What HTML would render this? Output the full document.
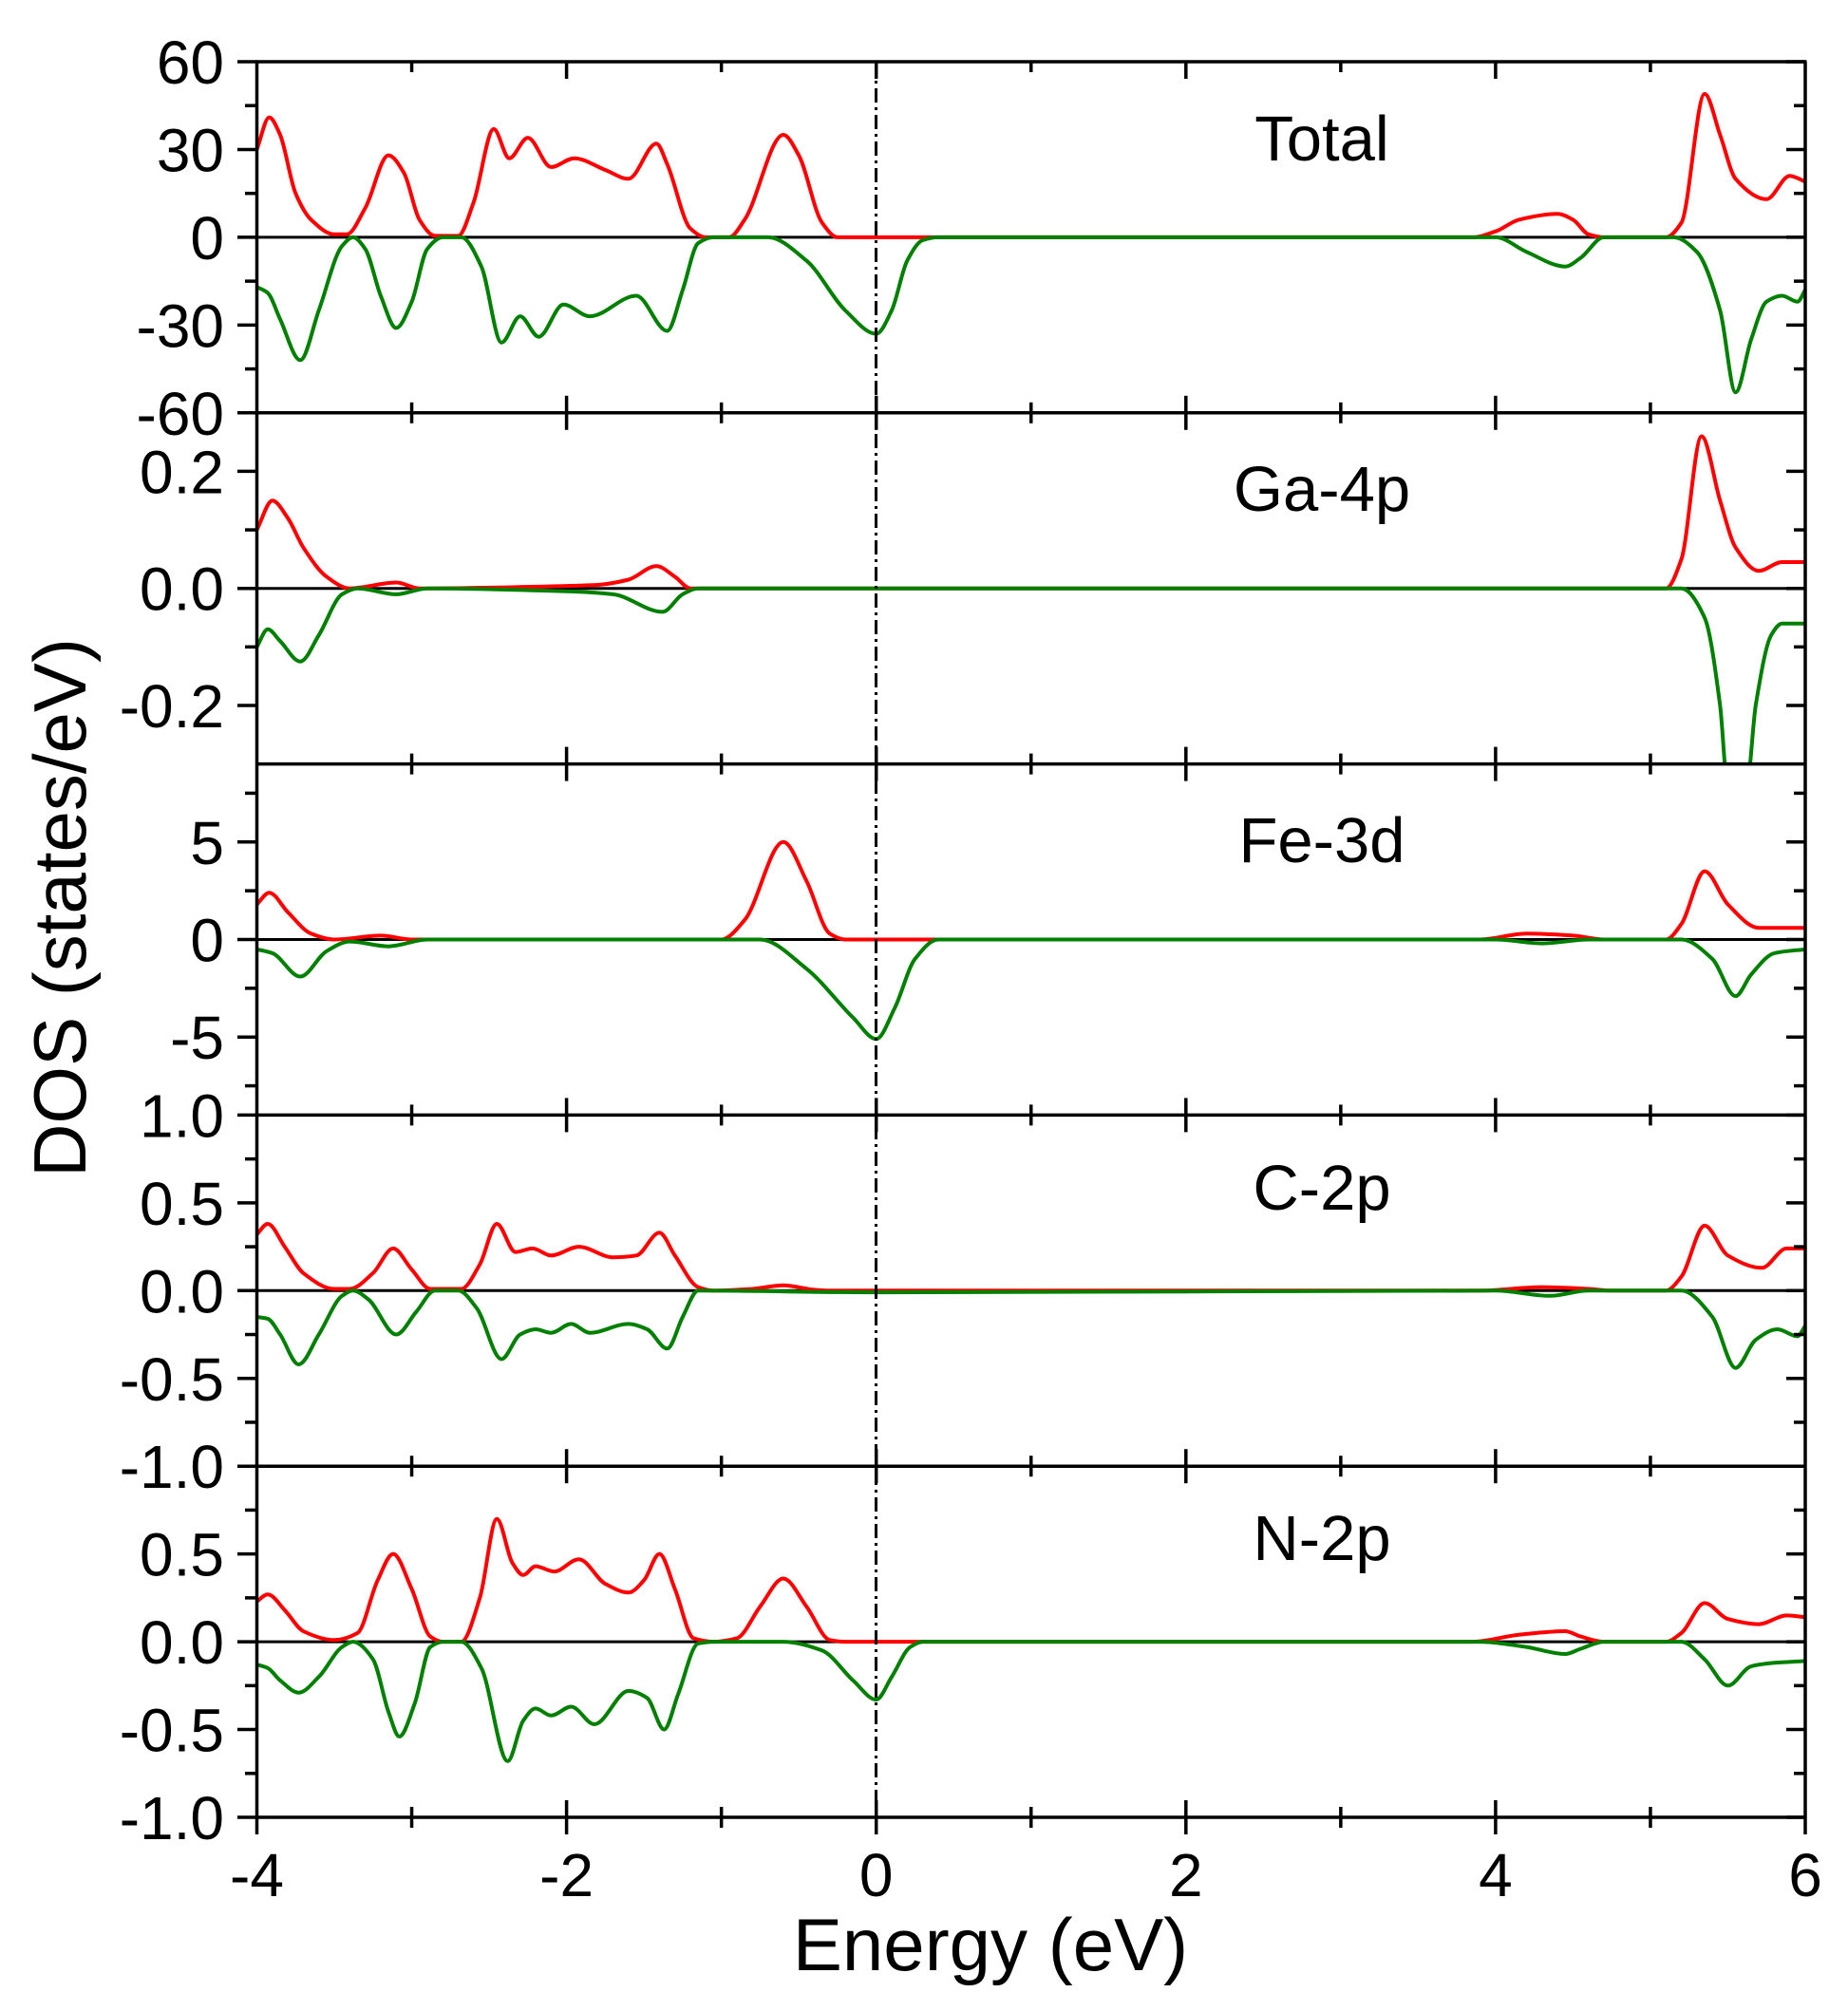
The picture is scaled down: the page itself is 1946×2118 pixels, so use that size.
<!DOCTYPE html>
<html><head><meta charset="utf-8"><style>
html,body{margin:0;padding:0;background:#fff;}
svg{display:block;}
text{font-family:"Liberation Sans",Arial,sans-serif;fill:#000;}
</style></head><body>
<svg id="s" width="1946" height="2118" viewBox="0 0 1946 2118" xmlns="http://www.w3.org/2000/svg">
<text x="1043" y="2075" font-size="78" text-anchor="middle">Energy (eV)</text>
<text transform="translate(90,956) rotate(-90)" font-size="78" text-anchor="middle">DOS (states/eV)</text>
</svg>
<script>
var S=document.getElementById('s'),NS='http://www.w3.org/2000/svg';
function el(t,a,txt){var e=document.createElementNS(NS,t);for(var k in a)e.setAttribute(k,a[k]);if(txt!==undefined)e.textContent=txt;S.appendChild(e);return e;}
var L=270.5,R=1901,T=65,PH=369.8;
function X(E){return L+(E+4)*(R-L)/10;}
var panels=[
{r:60,title:'Total',labels:[[60,'60'],[30,'30'],[0,'0'],[-30,'-30'],[-60,'-60']],minor:[45,15,-15,-45],
up:[[-4,30],[-3.92,41],[-3.85,35],[-3.75,15],[-3.65,6],[-3.5,1],[-3.42,1],[-3.3,10],[-3.15,28],[-3.05,22],[-2.95,6],[-2.85,0.5],[-2.7,0.5],[-2.6,12],[-2.47,37],[-2.37,27],[-2.25,34],[-2.1,24],[-1.95,27],[-1.75,23],[-1.6,20],[-1.42,32],[-1.35,25],[-1.2,3],[-1.1,0],[-0.95,0],[-0.85,6],[-0.6,35],[-0.5,28],[-0.35,5],[-0.25,0],[3.85,0],[4.0,2],[4.15,6],[4.4,8],[4.5,6],[4.6,1],[4.7,0],[5.1,0],[5.2,5],[5.35,49],[5.45,35],[5.55,20],[5.75,13],[5.9,21],[6,19]],
dn:[[-4,-17],[-3.93,-19],[-3.85,-28],[-3.72,-42],[-3.6,-25],[-3.45,-3],[-3.38,0],[-3.3,-4],[-3.2,-20],[-3.1,-31],[-3.0,-22],[-2.9,-4],[-2.8,0],[-2.68,0],[-2.55,-10],[-2.42,-36],[-2.3,-27],[-2.18,-34],[-2.02,-23],[-1.85,-27],[-1.55,-20],[-1.35,-32],[-1.25,-18],[-1.15,-2],[-1.05,0],[-0.7,0],[-0.45,-8],[-0.2,-25],[0,-33],[0.1,-25],[0.2,-8],[0.3,-1],[0.4,0],[4.0,0],[4.2,-5],[4.45,-10],[4.55,-7],[4.7,0],[5.15,0],[5.3,-5],[5.45,-25],[5.55,-53],[5.65,-35],[5.75,-22],[5.85,-20],[5.95,-22],[6,-18]]},
{r:0.3,title:'Ga-4p',labels:[[0.2,'0.2'],[0,'0.0'],[-0.2,'-0.2']],minor:[0.1,-0.1],
up:[[-4,0.1],[-3.9,0.15],[-3.8,0.12],[-3.7,0.07],[-3.55,0.02],[-3.4,0],[-3.1,0.01],[-2.95,0],[-2.2,0.003],[-1.8,0.006],[-1.6,0.015],[-1.42,0.038],[-1.3,0.02],[-1.2,0],[5.1,0],[5.2,0.05],[5.33,0.26],[5.45,0.15],[5.55,0.07],[5.7,0.03],[5.85,0.045],[6,0.045]],
dn:[[-4,-0.1],[-3.93,-0.07],[-3.85,-0.09],[-3.72,-0.125],[-3.6,-0.08],[-3.45,-0.01],[-3.35,0],[-3.1,-0.01],[-2.9,0],[-2.0,-0.005],[-1.7,-0.01],[-1.38,-0.04],[-1.25,-0.01],[-1.15,0],[5.2,0],[5.35,-0.05],[5.45,-0.2],[5.5,-0.34],[5.62,-0.34],[5.68,-0.2],[5.78,-0.08],[5.85,-0.06],[6,-0.06]]},
{r:9,title:'Fe-3d',labels:[[5,'5'],[0,'0'],[-5,'-5']],minor:[7.5,2.5,-2.5,-7.5],
up:[[-4,1.8],[-3.92,2.4],[-3.8,1.4],[-3.65,0.3],[-3.5,0],[-3.2,0.2],[-3.0,0],[-1,0],[-0.85,1],[-0.6,5],[-0.45,3],[-0.3,0.3],[-0.2,0],[3.9,0],[4.2,0.3],[4.5,0.2],[4.7,0],[5.1,0],[5.2,0.8],[5.35,3.5],[5.5,1.8],[5.7,0.6],[6,0.6]],
dn:[[-4,-0.5],[-3.9,-0.7],[-3.72,-1.9],[-3.55,-0.6],[-3.4,-0.1],[-3.15,-0.35],[-2.9,0],[-0.75,0],[-0.45,-1.5],[-0.15,-4],[0,-5.1],[0.12,-3.5],[0.25,-1],[0.4,0],[4.0,0],[4.3,-0.2],[4.6,0],[5.2,0],[5.4,-1],[5.55,-2.9],[5.65,-1.8],[5.8,-0.7],[6,-0.5]]},
{r:1,title:'C-2p',labels:[[1,'1.0'],[0.5,'0.5'],[0,'0.0'],[-0.5,'-0.5'],[-1,'-1.0']],minor:[0.75,0.25,-0.25,-0.75],
up:[[-4,0.32],[-3.93,0.38],[-3.82,0.25],[-3.7,0.1],[-3.5,0.01],[-3.4,0.01],[-3.25,0.1],[-3.12,0.24],[-3.0,0.12],[-2.88,0.01],[-2.68,0.01],[-2.56,0.15],[-2.45,0.38],[-2.33,0.22],[-2.22,0.24],[-2.1,0.2],[-1.92,0.25],[-1.7,0.19],[-1.55,0.2],[-1.4,0.33],[-1.3,0.2],[-1.15,0.02],[-1.05,0],[-0.8,0.01],[-0.6,0.03],[-0.4,0.005],[-0.3,0],[3.9,0],[4.3,0.02],[4.6,0.01],[4.75,0],[5.1,0],[5.2,0.08],[5.35,0.37],[5.5,0.2],[5.72,0.13],[5.88,0.24],[6,0.24]],
dn:[[-4,-0.15],[-3.93,-0.16],[-3.85,-0.25],[-3.73,-0.42],[-3.6,-0.25],[-3.45,-0.03],[-3.38,0],[-3.28,-0.05],[-3.1,-0.25],[-2.97,-0.12],[-2.85,0],[-2.7,0],[-2.58,-0.1],[-2.42,-0.39],[-2.3,-0.25],[-2.2,-0.22],[-2.1,-0.24],[-1.97,-0.19],[-1.85,-0.24],[-1.6,-0.19],[-1.48,-0.22],[-1.35,-0.33],[-1.25,-0.15],[-1.15,0],[0,-0.01],[4.0,0],[4.35,-0.03],[4.6,0],[5.2,0],[5.4,-0.15],[5.55,-0.44],[5.68,-0.28],[5.82,-0.22],[5.95,-0.26],[6,-0.2]]},
{r:1,title:'N-2p',labels:[[0.5,'0.5'],[0,'0.0'],[-0.5,'-0.5'],[-1,'-1.0']],minor:[0.75,0.25,-0.25,-0.75],
up:[[-4,0.23],[-3.93,0.27],[-3.82,0.18],[-3.7,0.06],[-3.5,0.01],[-3.35,0.05],[-3.22,0.35],[-3.12,0.5],[-3.0,0.3],[-2.88,0.03],[-2.8,0],[-2.68,0],[-2.56,0.25],[-2.45,0.7],[-2.35,0.45],[-2.28,0.38],[-2.2,0.43],[-2.08,0.4],[-1.92,0.47],[-1.75,0.33],[-1.6,0.28],[-1.5,0.35],[-1.4,0.5],[-1.3,0.3],[-1.18,0.02],[-1.05,0],[-0.9,0.02],[-0.75,0.2],[-0.6,0.36],[-0.45,0.2],[-0.3,0.01],[-0.2,0],[3.85,0],[4.15,0.04],[4.45,0.06],[4.55,0.03],[4.7,0],[5.1,0],[5.2,0.05],[5.35,0.22],[5.5,0.13],[5.7,0.1],[5.88,0.15],[6,0.14]],
dn:[[-4,-0.13],[-3.93,-0.15],[-3.85,-0.22],[-3.73,-0.29],[-3.6,-0.2],[-3.45,-0.03],[-3.38,0],[-3.25,-0.1],[-3.15,-0.4],[-3.08,-0.54],[-2.98,-0.35],[-2.88,-0.03],[-2.8,0],[-2.68,0],[-2.55,-0.15],[-2.38,-0.68],[-2.28,-0.45],[-2.2,-0.38],[-2.1,-0.42],[-1.97,-0.37],[-1.82,-0.47],[-1.6,-0.28],[-1.48,-0.32],[-1.37,-0.5],[-1.28,-0.3],[-1.15,-0.01],[-1.05,0],[-0.6,0],[-0.35,-0.05],[-0.15,-0.22],[0,-0.33],[0.1,-0.2],[0.22,-0.03],[0.3,0],[3.9,0],[4.2,-0.03],[4.45,-0.07],[4.55,-0.04],[4.7,0],[5.2,0],[5.35,-0.1],[5.5,-0.25],[5.65,-0.14],[5.8,-0.12],[6,-0.11]]}
];
var titleY=[169,538,908,1274,1643];
function path(pts,Y){
 var x=pts.map(function(q){return X(q[0]);}),y=pts.map(function(q){return Y(q[1]);}),n=x.length;
 var d=[],m=[];
 for(var i=0;i<n-1;i++)d.push((y[i+1]-y[i])/(x[i+1]-x[i]));
 m[0]=d[0];m[n-1]=d[n-2];
 for(var i=1;i<n-1;i++){ if(d[i-1]*d[i]<=0)m[i]=0; else{var w1=2*(x[i+1]-x[i])+(x[i]-x[i-1]),w2=(x[i+1]-x[i])+2*(x[i]-x[i-1]);m[i]=(w1+w2)/(w1/d[i-1]+w2/d[i]);}}
 var s='M'+x[0].toFixed(1)+','+y[0].toFixed(1);
 for(var i=0;i<n-1;i++){var h=(x[i+1]-x[i])/3;
  s+='C'+(x[i]+h).toFixed(1)+','+(y[i]+m[i]*h).toFixed(1)+' '+(x[i+1]-h).toFixed(1)+','+(y[i+1]-m[i+1]*h).toFixed(1)+' '+x[i+1].toFixed(1)+','+y[i+1].toFixed(1);}
 return s;}
var defs=el('defs',{});
panels.forEach(function(P,i){
 var top=T+i*PH,bot=top+PH,mid=(top+bot)/2;
 var Y=function(v){return mid-v/P.r*(PH/2);};
 var cp=document.createElementNS(NS,'clipPath');cp.setAttribute('id','c'+i);
 var rc=document.createElementNS(NS,'rect');rc.setAttribute('x',L);rc.setAttribute('y',top);rc.setAttribute('width',R-L);rc.setAttribute('height',PH);
 cp.appendChild(rc);defs.appendChild(cp);
 el('line',{x1:L,x2:R,y1:mid,y2:mid,stroke:'#000','stroke-width':3});
 el('path',{d:path(P.up,Y),fill:'none',stroke:'#ff0000','stroke-width':4,'clip-path':'url(#c'+i+')'});
 el('path',{d:path(P.dn,Y),fill:'none',stroke:'#008000','stroke-width':4,'clip-path':'url(#c'+i+')'});
 P.labels.forEach(function(l){var y=Y(l[0]);
  el('line',{x1:250,x2:L,y1:y,y2:y,stroke:'#000','stroke-width':3.5});
  el('line',{x1:R-20,x2:R,y1:y,y2:y,stroke:'#000','stroke-width':3.5});
  el('text',{x:236,y:y+23,'font-size':64,'text-anchor':'end'},l[1]);});
 P.minor.forEach(function(m){var y=Y(m);
  el('line',{x1:258,x2:L,y1:y,y2:y,stroke:'#000','stroke-width':3.5});
  el('line',{x1:R-12,x2:R,y1:y,y2:y,stroke:'#000','stroke-width':3.5});});
 el('text',{x:1392,y:titleY[i],'font-size':67,'text-anchor':'middle'},P.title);
 for(var e=-3;e<6;e++){var x=X(e),len=(e%2===0)?18:11;
  el('line',{x1:x,x2:x,y1:top,y2:top+len,stroke:'#000','stroke-width':3.5});
  el('line',{x1:x,x2:x,y1:bot,y2:bot-len,stroke:'#000','stroke-width':3.5});}
});
el('line',{x1:922.5,x2:922.5,y1:T,y2:T+5*PH,stroke:'#000','stroke-width':3,'stroke-dasharray':'15 5 3 5'});
for(var i=0;i<=5;i++){var y=T+i*PH;el('line',{x1:L-1.5,x2:R+1.5,y1:y,y2:y,stroke:'#000','stroke-width':3.5});}
el('line',{x1:L,x2:L,y1:T,y2:T+5*PH,stroke:'#000','stroke-width':3.5});
el('line',{x1:R,x2:R,y1:T,y2:T+5*PH,stroke:'#000','stroke-width':3.5});
var B=T+5*PH;
for(var e=-4;e<=6;e++){var x=X(e),len=(e%2===0)?18:11;
 el('line',{x1:x,x2:x,y1:B,y2:B+len,stroke:'#000','stroke-width':3.5});
 if(e%2===0)el('text',{x:x,y:1997,'font-size':64,'text-anchor':'middle'},String(e));}
</script>
</body></html>
